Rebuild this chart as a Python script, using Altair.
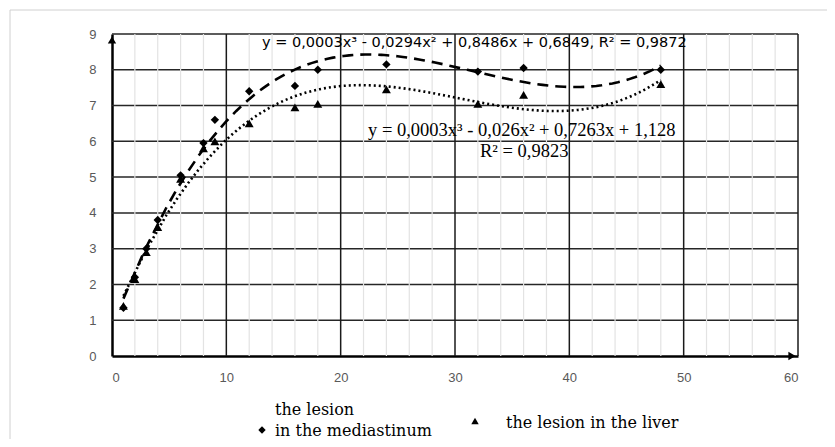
import altair as alt
import pandas as pd

# ---- data ----
months = [1, 2, 3, 4, 6, 8, 9, 12, 16, 18, 24, 32, 36, 48]
mediastinum = [1.35, 2.2, 3.0, 3.8, 5.05, 5.95, 6.6, 7.4, 7.55, 8.0, 8.15, 7.95, 8.05, 8.0]
liver = [1.4, 2.15, 2.9, 3.6, 4.95, 5.8, 6.0, 6.5, 6.95, 7.05, 7.45, 7.05, 7.3, 7.6]

x_ticks = [0, 10, 20, 30, 40, 50, 60]
y_ticks = [0, 1, 2, 3, 4, 5, 6, 7, 8, 9]
x_major_grid = [10, 20, 30, 40, 50, 60]
x_minor_grid = [2, 4, 6, 8, 12, 14, 16, 18, 22, 24, 26, 28, 32, 34, 36, 38,
                42, 44, 46, 48, 52, 54, 56, 58]
y_grid = [1, 2, 3, 4, 5, 6, 7, 8, 9]

eq_med = "y = 0,0003x³ - 0,0294x² + 0,8486x + 0,6849, R² = 0,9872"
eq_liv = "y = 0,0003x³ - 0,026x² + 0,7263x + 1,128"
r2_liv = "R² = 0,9823"
leg_med_1 = "the lesion"
leg_med_2 = "in the mediastinum"
leg_liv = "the lesion in the liver"

W, H = 686, 322

med_df = pd.DataFrame({"x": months, "y": mediastinum})
liv_df = pd.DataFrame({"x": months, "y": liver})

xs = alt.Scale(domain=[0, 60], nice=False, zero=False)
ys = alt.Scale(domain=[0, 9], nice=False, zero=False)

one = pd.DataFrame({"k": [0]})

xaxis = alt.Axis(values=x_ticks, grid=False, ticks=False, domain=True,
                 domainColor="black", domainWidth=2.5, labelOverlap=False,
                 labelColor="#595959", labelFont="Liberation Sans",
                 labelFontSize=13, labelPadding=15, title=None)
yaxis = alt.Axis(values=y_ticks, grid=False, ticks=False, domain=True,
                 domainColor="black", domainWidth=2.5, labelOverlap=False,
                 labelColor="#595959", labelFont="Liberation Sans",
                 labelFontSize=13, labelPadding=16, title=None)


def X(f="x"):
    return alt.X(f"{f}:Q", scale=xs, axis=xaxis)


def Y(f="y"):
    return alt.Y(f"{f}:Q", scale=ys, axis=yaxis)


# outer light border
border = alt.Chart(one).mark_rect(fill=None, stroke="#d0d0d0", strokeWidth=1).encode(
    x=alt.value(-102), x2=alt.value(740), y=alt.value(-24), y2=alt.value(430)
)

hgrid = alt.Chart(pd.DataFrame({"y": y_grid})).mark_rule(color="#262626", strokeWidth=1.5).encode(y=Y())
vminor = alt.Chart(pd.DataFrame({"x": x_minor_grid})).mark_rule(color="#e3e3e3", strokeWidth=1.2).encode(x=X())
vmajor = alt.Chart(pd.DataFrame({"x": x_major_grid})).mark_rule(color="#1a1a1a", strokeWidth=1.5).encode(x=X())

med_trend = alt.Chart(med_df).transform_regression(
    "x", "y", method="poly", order=3
).mark_line(color="black", strokeWidth=2.6, strokeDash=[11, 7]).encode(x=X(), y=Y())
liv_trend = alt.Chart(liv_df).transform_regression(
    "x", "y", method="poly", order=3
).mark_line(color="black", strokeWidth=2.6, strokeDash=[2, 3]).encode(x=X(), y=Y())

med_pts = alt.Chart(med_df).mark_point(shape="diamond", filled=True, color="black", size=70, opacity=1).encode(
    x=X(), y=Y()
)
liv_pts = alt.Chart(liv_df).mark_point(shape="triangle-up", filled=True, color="black", size=80, opacity=1).encode(
    x=X(), y=Y()
)

arrow_up = alt.Chart(one).mark_point(shape="triangle-up", filled=True, color="black", size=70, opacity=1).encode(
    x=alt.value(0), y=alt.value(6)
)
arrow_right = alt.Chart(one).mark_point(shape="triangle-right", filled=True, color="black", size=70, opacity=1).encode(
    x=alt.value(W - 6), y=alt.value(H)
)


def label(text, x, y, font, size, align="left", weight="normal"):
    return alt.Chart(one).mark_text(
        text=text, font=font, fontSize=size, align=align, baseline="middle",
        color="black", fontWeight=weight
    ).encode(x=alt.value(x), y=alt.value(y))


t1 = label(eq_med, 150, 9, "DejaVu Sans", 14.5)
t2 = label(eq_liv, 256, 96, "Liberation Serif", 18.5)
t3 = label(r2_liv, 368, 117, "Liberation Serif", 18.5)
l1 = label(leg_med_1, 163, 376, "DejaVu Serif", 16)
l2 = label(leg_med_2, 163, 397, "DejaVu Serif", 16)
l3 = label(leg_liv, 394, 389, "DejaVu Serif", 16)

leg_d = alt.Chart(one).mark_point(shape="diamond", filled=True, color="black", size=55, opacity=1).encode(
    x=alt.value(150), y=alt.value(396)
)
leg_t = alt.Chart(one).mark_point(shape="triangle-up", filled=True, color="black", size=55, opacity=1).encode(
    x=alt.value(363), y=alt.value(387)
)

chart = alt.layer(
    border, hgrid, vminor, vmajor, med_trend, liv_trend, med_pts, liv_pts,
    arrow_up, arrow_right, t1, t2, t3, l1, l2, l3, leg_d, leg_t
).properties(
    width=W, height=H, autosize="none",
    padding={"left": 104, "top": 26, "right": 29, "bottom": 83},
    background="white"
).configure_view(strokeWidth=0)

chart.save("out.html", embed_options={"renderer": "svg", "actions": False})
